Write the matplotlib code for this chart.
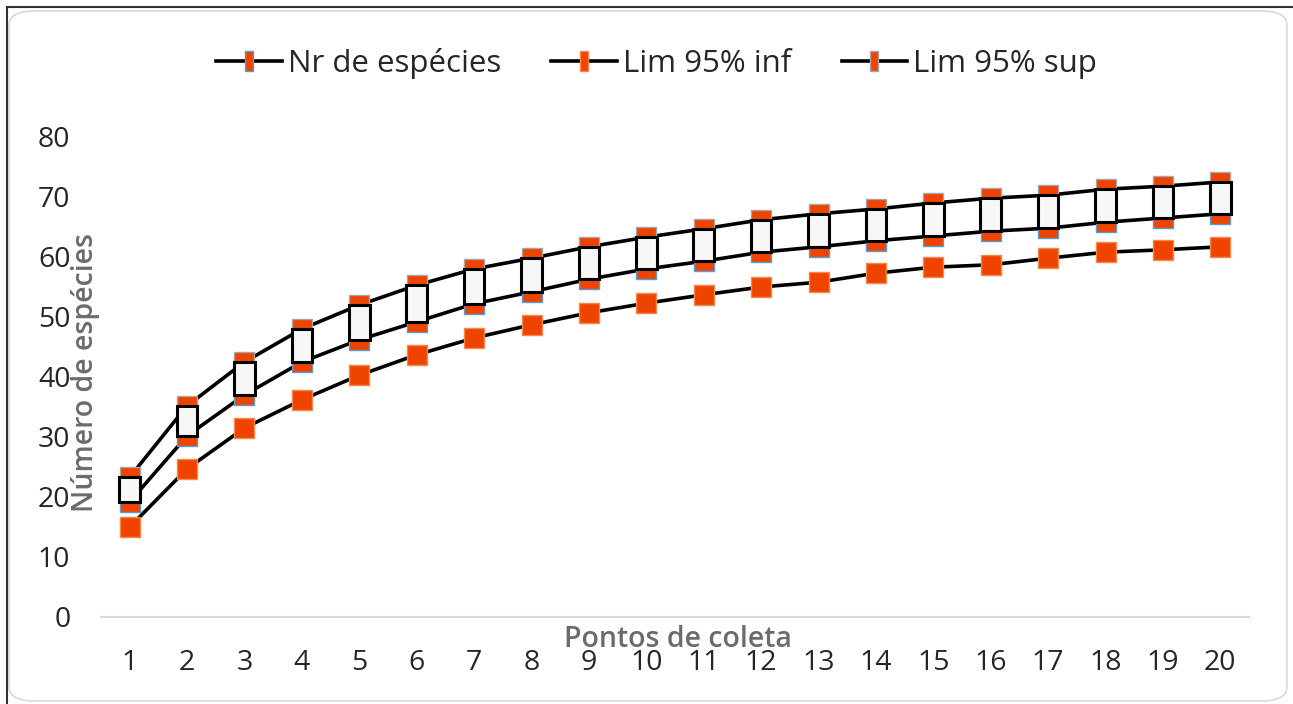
import matplotlib
matplotlib.use('Agg')
import matplotlib.pyplot as plt
from matplotlib.lines import Line2D
from matplotlib.patches import FancyBboxPatch

# pontos de coleta e curvas de acumulação
pontos = list(range(1, 21))
nr_especies = [19.2, 30.2, 37.0, 42.5, 46.2, 49.2, 52.2, 54.2, 56.3, 58.0,
               59.3, 60.8, 61.7, 62.7, 63.5, 64.3, 64.8, 65.8, 66.5, 67.2]
lim_inf = [15.0, 24.7, 31.5, 36.2, 40.3, 43.7, 46.5, 48.7, 50.7, 52.3,
           53.7, 55.0, 55.8, 57.3, 58.3, 58.7, 59.8, 60.8, 61.2, 61.7]
lim_sup = [23.3, 35.2, 42.5, 48.0, 52.0, 55.3, 58.0, 59.8, 61.7, 63.3,
           64.7, 66.2, 67.2, 68.0, 69.0, 69.8, 70.3, 71.3, 71.8, 72.5]
y_ticks = [0, 10, 20, 30, 40, 50, 60, 70, 80]

ORANGE = '#EE4400'
FONT = 'Open Sans'
FS = 20.5

fig = plt.figure(figsize=(12.93, 7.04), dpi=100)
ax = fig.add_axes([0.0781, 0.1236, 0.8879, 0.6818])

# linhas com marcadores
ax.plot(pontos, lim_sup, '-s', color='black', lw=2.6, ms=14,
        mfc=ORANGE, mec='#A6A6A6', mew=1, zorder=2)
ax.plot(pontos, nr_especies, '-s', color='black', lw=2.6, ms=14,
        mfc=ORANGE, mec='#5B9BD5', mew=1, zorder=2)
ax.plot(pontos, lim_inf, '-s', color='black', lw=2.6, ms=14,
        mfc=ORANGE, mec='#F4874B', mew=1, zorder=2)

# barras superior/inferior (caixas brancas)
alturas = [s - n for s, n in zip(lim_sup, nr_especies)]
ax.bar(pontos, alturas, bottom=nr_especies, width=0.36, color='#F7F7F7',
       edgecolor='black', linewidth=2.2, zorder=3)

ax.set_xlim(0.5, 20.5)
ax.set_ylim(0, 80)
ax.set_xticks(pontos)
ax.set_yticks(y_ticks)
ax.tick_params(length=0, labelsize=FS, colors='#262626')
ax.tick_params(axis='x', pad=23)
ax.tick_params(axis='y', pad=22)
for lab in ax.get_xticklabels() + ax.get_yticklabels():
    lab.set_fontfamily(FONT)
for s in ['top', 'right', 'left']:
    ax.spines[s].set_visible(False)
ax.spines['bottom'].set_color('#D9D9D9')
ax.spines['bottom'].set_linewidth(1.5)

fig.text(0.524, 0.091, 'Pontos de coleta', ha='center', va='center',
         fontsize=FS, color='#6B6B6B', fontweight='semibold', family=FONT)
fig.text(0.066, 0.471, 'Número de espécies', ha='center', va='center',
         rotation=90, fontsize=FS, color='#6B6B6B', fontweight='semibold', family=FONT)

# legenda
rect = [(-0.4, -1), (0.4, -1), (0.4, 1), (-0.4, 1), (-0.4, -1)]
handles = [
    Line2D([], [], color='black', lw=2.6, marker=rect, ms=15, mfc=ORANGE, mec='#5B9BD5'),
    Line2D([], [], color='black', lw=2.6, marker=rect, ms=15, mfc=ORANGE, mec='#F4874B'),
    Line2D([], [], color='black', lw=2.6, marker=rect, ms=15, mfc=ORANGE, mec='#A6A6A6'),
]
labels = ['Nr de espécies', 'Lim 95% inf', 'Lim 95% sup']
fig.legend(handles, labels, loc='center', bbox_to_anchor=(0.508, 0.91), ncol=3,
           frameon=False, prop={'family': FONT, 'size': 22.5}, handlelength=2.1,
           handletextpad=0.2, columnspacing=1.6, labelcolor='#262626')

# moldura
fig.patches.append(FancyBboxPatch((9 / 1293, 3 / 704), 1278 / 1293, 690 / 704,
                                  boxstyle='round,pad=0,rounding_size=0.02',
                                  transform=fig.transFigure, fill=False,
                                  edgecolor='#D9D9D9', linewidth=1.2))
fig.add_artist(Line2D([7 / 1293, 1], [1 - 7 / 704, 1 - 7 / 704], color='#333333',
                      lw=1.5, transform=fig.transFigure))
fig.add_artist(Line2D([7 / 1293, 7 / 1293], [0, 1 - 7 / 704], color='#333333',
                      lw=1.5, transform=fig.transFigure))

fig.savefig('out.png', dpi=100)
